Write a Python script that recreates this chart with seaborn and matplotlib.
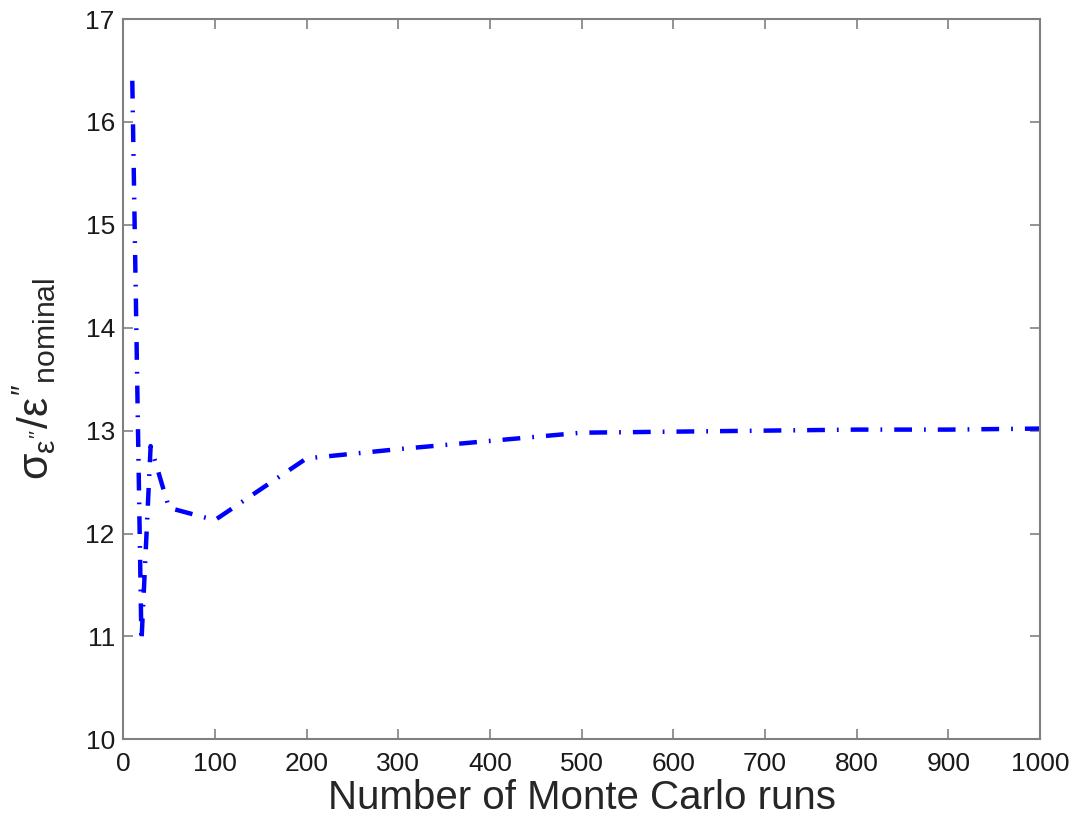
import matplotlib
matplotlib.use("Agg")
import matplotlib.pyplot as plt
import seaborn as sns
import pandas as pd

# Relative uncertainty vs. number of Monte Carlo runs
runs = [10, 20, 30, 50, 100, 200, 300, 400, 500, 600, 700, 800, 900, 1000]
ratio = [16.4, 10.95, 12.85, 12.25, 12.13, 12.73, 12.82, 12.90, 12.98, 12.99, 13.00, 13.01, 13.01, 13.02]

x_ticks = [0, 100, 200, 300, 400, 500, 600, 700, 800, 900, 1000]
y_ticks = [10, 11, 12, 13, 14, 15, 16, 17]

sns.set_style("white")
plt.rcParams["font.family"] = ["Liberation Sans", "DejaVu Sans"]
plt.rcParams["mathtext.fontset"] = "custom"
plt.rcParams["mathtext.rm"] = "Liberation Sans"
plt.rcParams["mathtext.it"] = "Liberation Sans"
plt.rcParams["mathtext.sf"] = "Liberation Sans"

df = pd.DataFrame({"runs": runs, "ratio": ratio})

fig = plt.figure(figsize=(10.8, 8.27), dpi=100)
ax = fig.add_axes([0.114, 0.106, 0.849, 0.871])

sns.lineplot(data=df, x="runs", y="ratio", ax=ax, color="#0000ff",
             linewidth=3.2, linestyle=(0, (4, 2.7, 0.4, 2.7)), sort=False)

ax.set_xlim(0, 1000)
ax.set_ylim(10, 17)
ax.set_xticks(x_ticks)
ax.set_yticks(y_ticks)
ax.tick_params(direction="in", length=7, width=1.2, color="#808080",
               labelsize=19, bottom=True, left=True, top=True, right=True,
               labelcolor="#1a1a1a")
ax.tick_params(axis="x", pad=9)
ax.tick_params(axis="y", pad=6)
for s in ax.spines.values():
    s.set_visible(True)
    s.set_color("#808080")
    s.set_linewidth(1.5)

ax.set_xlabel("Number of Monte Carlo runs", fontsize=29, labelpad=2)
ax.set_ylabel(r"$σ_{ε''}/ε''_{\mathrm{nominal}}$", fontsize=31, labelpad=20)

fig.savefig("out.png", dpi=100)
